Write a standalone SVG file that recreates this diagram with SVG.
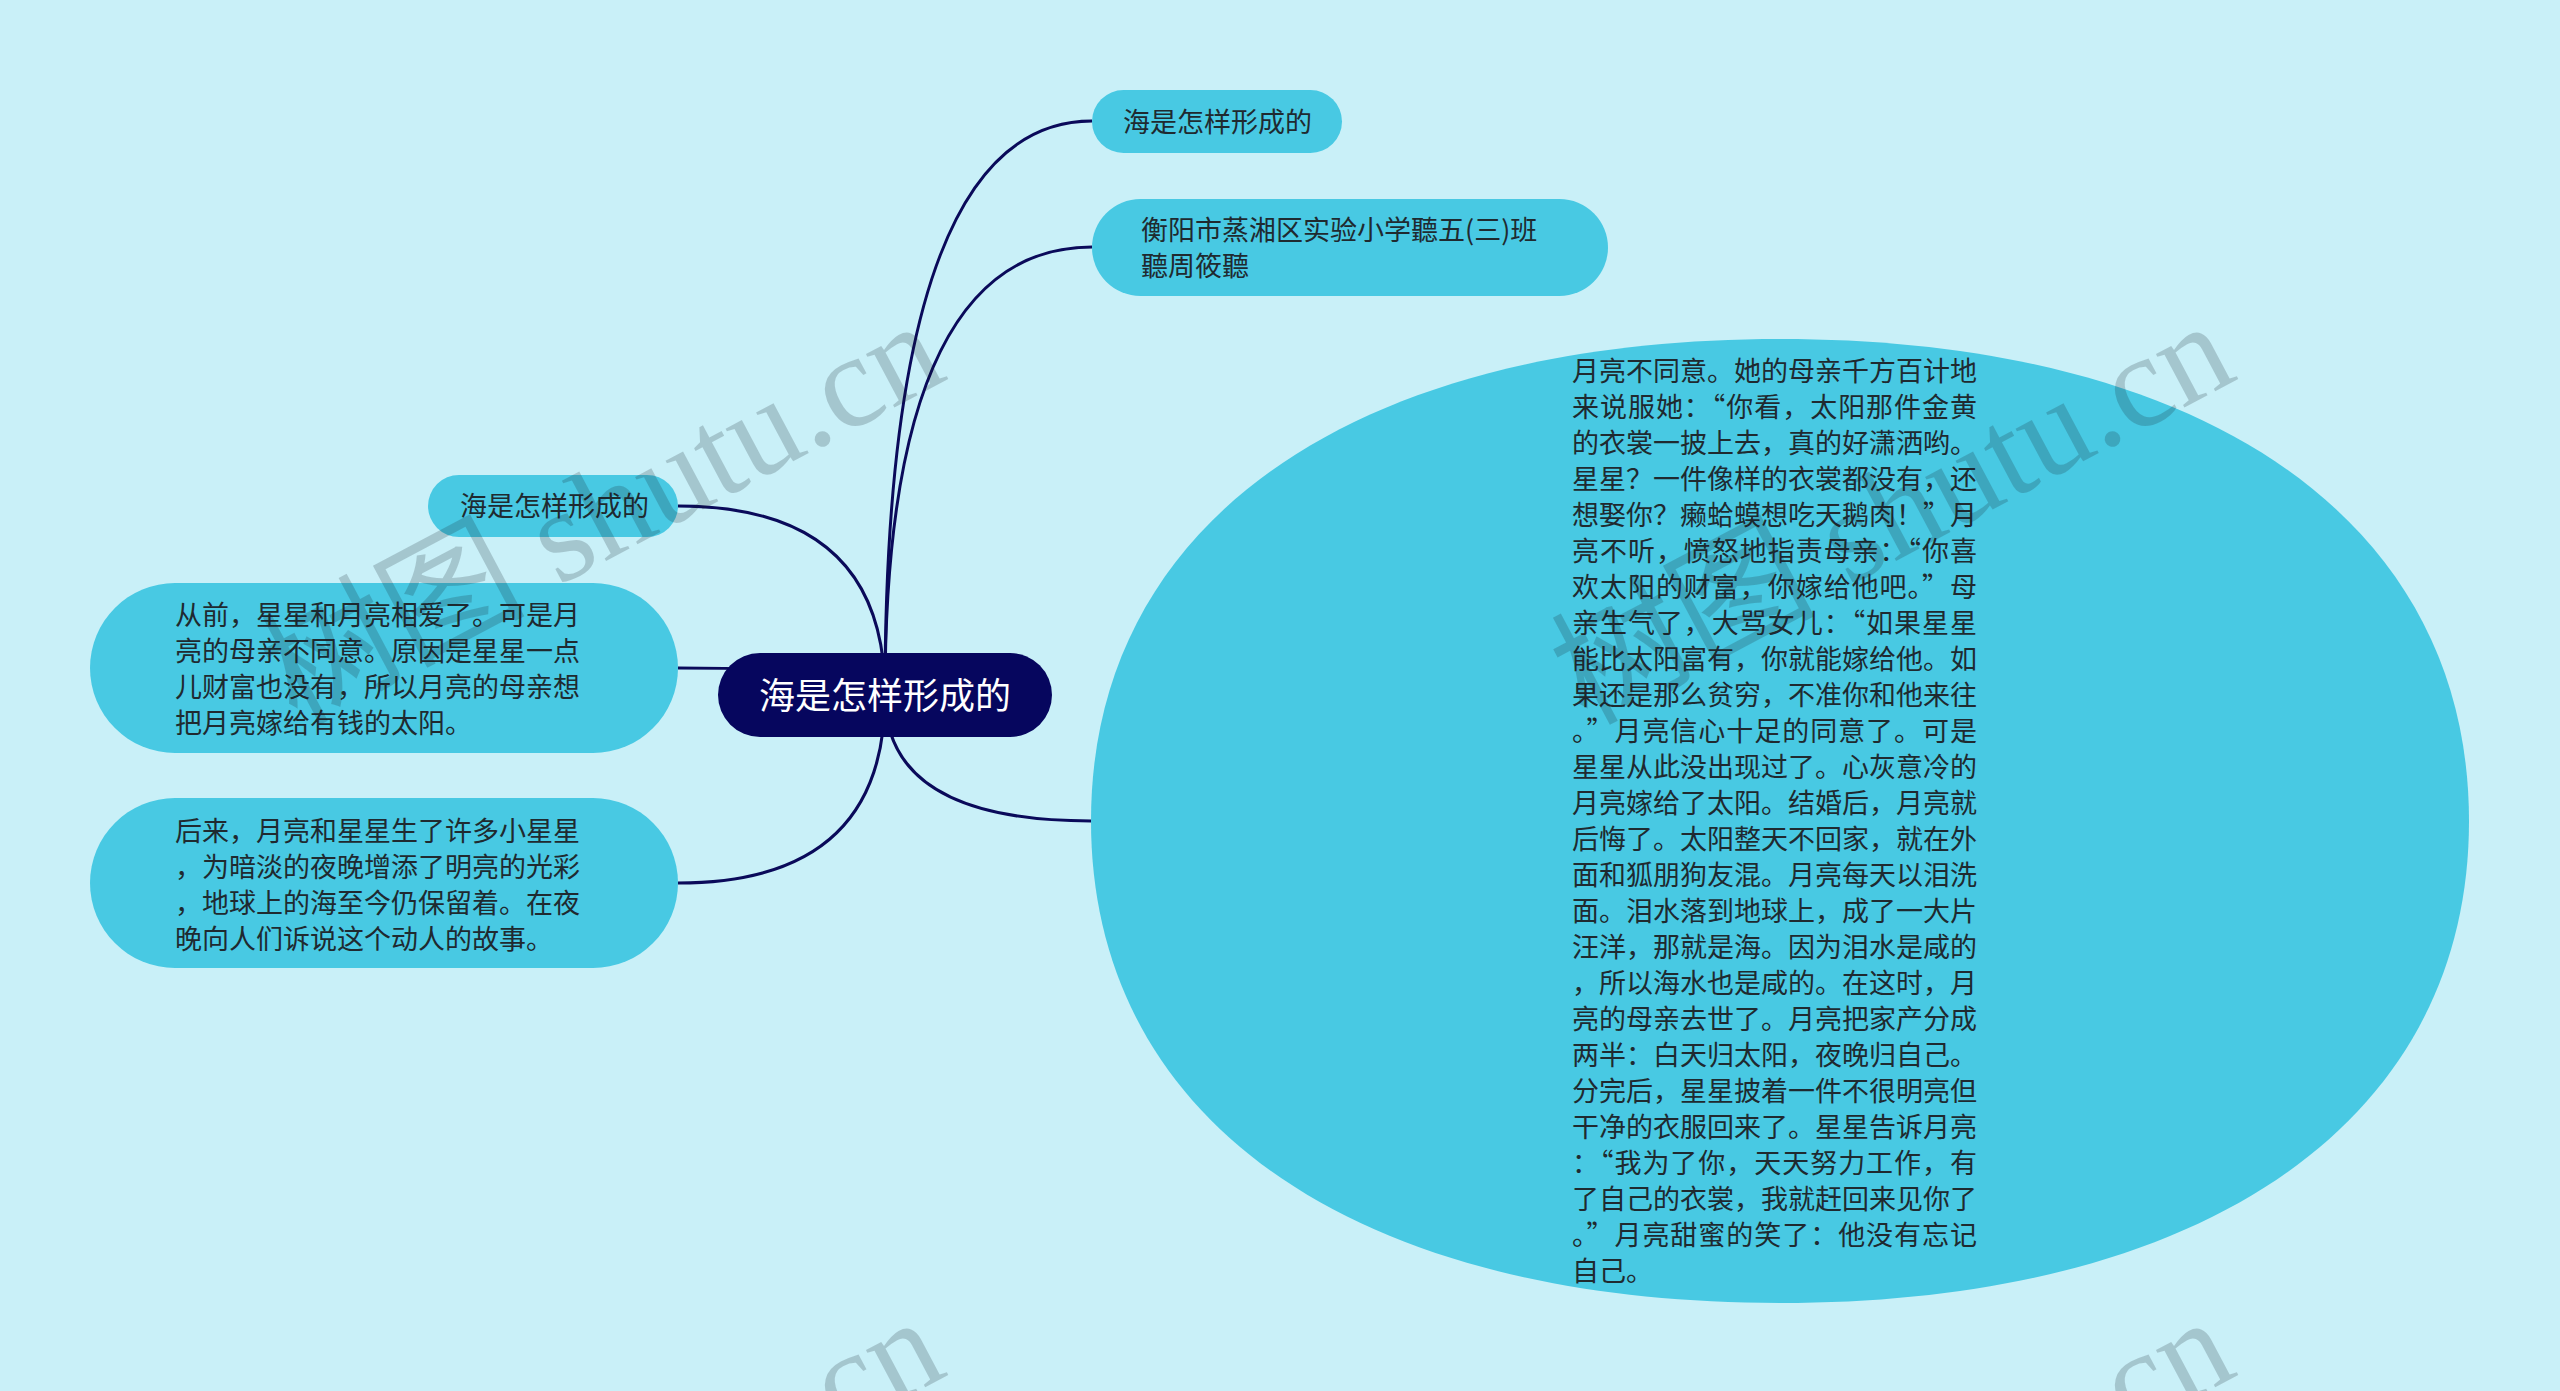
<svg xmlns="http://www.w3.org/2000/svg" width="2560" height="1391" viewBox="0 0 2560 1391">
<style>
.bg{fill:#c9f0f8}
.node{fill:#48c9e3}
.root{fill:#06065e}
.t{font-family:"Noto Sans CJK SC","Noto Sans",sans-serif;font-size:27px;fill:#1f2a30}
.rt{font-family:"Noto Sans CJK SC","Noto Sans",sans-serif;font-size:36px;fill:#ffffff}
.conn{fill:none;stroke:#0a0a5a;stroke-width:3}
.wm{font-family:"Liberation Serif","Noto Sans CJK SC",serif;font-size:132px;fill:#14202a;fill-opacity:0.2}
</style>
<rect class="bg" x="0" y="0" width="2560" height="1391"/>
<g id="connectors">
<path class="conn" d="M885 695 Q885 121 1092 121"/>
<path class="conn" d="M885 695 Q885 247 1092 247"/>
<path class="conn" d="M885 695 Q885 506 678 506"/>
<path class="conn" d="M885 695 Q885 668 678 668"/>
<path class="conn" d="M885 695 Q885 883 678 883"/>
<path class="conn" d="M885 695 Q885 821 1091 821"/>
</g>
<g id="n-root">
<rect class="root" x="718" y="653" width="334" height="84" rx="42"/>
<text class="rt" x="885" y="709" text-anchor="middle">海是怎样形成的</text>
</g>
<g id="n-top1">
<rect class="node" x="1092" y="90" width="250" height="63" rx="31.5"/>
<text class="t" x="1123" y="132">海是怎样形成的</text>
</g>
<g id="n-top2">
<rect class="node" x="1092" y="199" width="516" height="97" rx="48.5"/>
<text class="t" x="1141" y="240">衡阳市蒸湘区实验小学聽五(三)班</text>
<text class="t" x="1141" y="276">聽周筱聽</text>
</g>
<g id="n-left1">
<rect class="node" x="428" y="475" width="250" height="62" rx="31"/>
<text class="t" x="460" y="516">海是怎样形成的</text>
</g>
<g id="n-left2">
<rect class="node" x="90" y="583" width="588" height="170" rx="85"/>
<text class="t" x="175" y="625" textLength="405" lengthAdjust="spacing">从前，星星和月亮相爱了。可是月</text>
<text class="t" x="175" y="661" textLength="405" lengthAdjust="spacing">亮的母亲不同意。原因是星星一点</text>
<text class="t" x="175" y="697" textLength="405" lengthAdjust="spacing">儿财富也没有，所以月亮的母亲想</text>
<text class="t" x="175" y="733">把月亮嫁给有钱的太阳。</text>
</g>
<g id="n-left3">
<rect class="node" x="90" y="798" width="588" height="170" rx="85"/>
<text class="t" x="175" y="841" textLength="405" lengthAdjust="spacing">后来，月亮和星星生了许多小星星</text>
<text class="t" x="175" y="877" textLength="405" lengthAdjust="spacing">，为暗淡的夜晚增添了明亮的光彩</text>
<text class="t" x="175" y="913" textLength="405" lengthAdjust="spacing">，地球上的海至今仍保留着。在夜</text>
<text class="t" x="175" y="949">晚向人们诉说这个动人的故事。</text>
</g>
<g id="n-story">
<path class="node" d="M2469 821 C2469 522 2207 339 1780 339 C1353 339 1091 522 1091 821 C1091 1120 1353 1303 1780 1303 C2207 1303 2469 1120 2469 821 Z"/>
<text class="t" x="1572" y="381" textLength="405" lengthAdjust="spacing">月亮不同意。她的母亲千方百计地</text>
<text class="t" x="1572" y="417" textLength="405" lengthAdjust="spacing">来说服她：“你看，太阳那件金黄</text>
<text class="t" x="1572" y="453" textLength="405" lengthAdjust="spacing">的衣裳一披上去，真的好潇洒哟。</text>
<text class="t" x="1572" y="489" textLength="405" lengthAdjust="spacing">星星？一件像样的衣裳都没有，还</text>
<text class="t" x="1572" y="525" textLength="405" lengthAdjust="spacing">想娶你？癞蛤蟆想吃天鹅肉！”月</text>
<text class="t" x="1572" y="561" textLength="405" lengthAdjust="spacing">亮不听，愤怒地指责母亲：“你喜</text>
<text class="t" x="1572" y="597" textLength="405" lengthAdjust="spacing">欢太阳的财富，你嫁给他吧。”母</text>
<text class="t" x="1572" y="633" textLength="405" lengthAdjust="spacing">亲生气了，大骂女儿：“如果星星</text>
<text class="t" x="1572" y="669" textLength="405" lengthAdjust="spacing">能比太阳富有，你就能嫁给他。如</text>
<text class="t" x="1572" y="705" textLength="405" lengthAdjust="spacing">果还是那么贫穷，不准你和他来往</text>
<text class="t" x="1572" y="741" textLength="405" lengthAdjust="spacing">。”月亮信心十足的同意了。可是</text>
<text class="t" x="1572" y="777" textLength="405" lengthAdjust="spacing">星星从此没出现过了。心灰意冷的</text>
<text class="t" x="1572" y="813" textLength="405" lengthAdjust="spacing">月亮嫁给了太阳。结婚后，月亮就</text>
<text class="t" x="1572" y="849" textLength="405" lengthAdjust="spacing">后悔了。太阳整天不回家，就在外</text>
<text class="t" x="1572" y="885" textLength="405" lengthAdjust="spacing">面和狐朋狗友混。月亮每天以泪洗</text>
<text class="t" x="1572" y="921" textLength="405" lengthAdjust="spacing">面。泪水落到地球上，成了一大片</text>
<text class="t" x="1572" y="957" textLength="405" lengthAdjust="spacing">汪洋，那就是海。因为泪水是咸的</text>
<text class="t" x="1572" y="993" textLength="405" lengthAdjust="spacing">，所以海水也是咸的。在这时，月</text>
<text class="t" x="1572" y="1029" textLength="405" lengthAdjust="spacing">亮的母亲去世了。月亮把家产分成</text>
<text class="t" x="1572" y="1065" textLength="405" lengthAdjust="spacing">两半：白天归太阳，夜晚归自己。</text>
<text class="t" x="1572" y="1101" textLength="405" lengthAdjust="spacing">分完后，星星披着一件不很明亮但</text>
<text class="t" x="1572" y="1137" textLength="405" lengthAdjust="spacing">干净的衣服回来了。星星告诉月亮</text>
<text class="t" x="1572" y="1173" textLength="405" lengthAdjust="spacing">：“我为了你，天天努力工作，有</text>
<text class="t" x="1572" y="1209" textLength="405" lengthAdjust="spacing">了自己的衣裳，我就赶回来见你了</text>
<text class="t" x="1572" y="1245" textLength="405" lengthAdjust="spacing">。”月亮甜蜜的笑了：他没有忘记</text>
<text class="t" x="1572" y="1281">自己。</text>
</g>
<g id="watermarks">
<text class="wm" transform="translate(950 378) rotate(-28)" text-anchor="end">树图 shutu.cn</text>
<text class="wm" transform="translate(2240 378) rotate(-28)" text-anchor="end">树图 shutu.cn</text>
<text class="wm" transform="translate(950 1374) rotate(-28)" text-anchor="end">树图 shutu.cn</text>
<text class="wm" transform="translate(2240 1374) rotate(-28)" text-anchor="end">树图 shutu.cn</text>
</g>
</svg>
